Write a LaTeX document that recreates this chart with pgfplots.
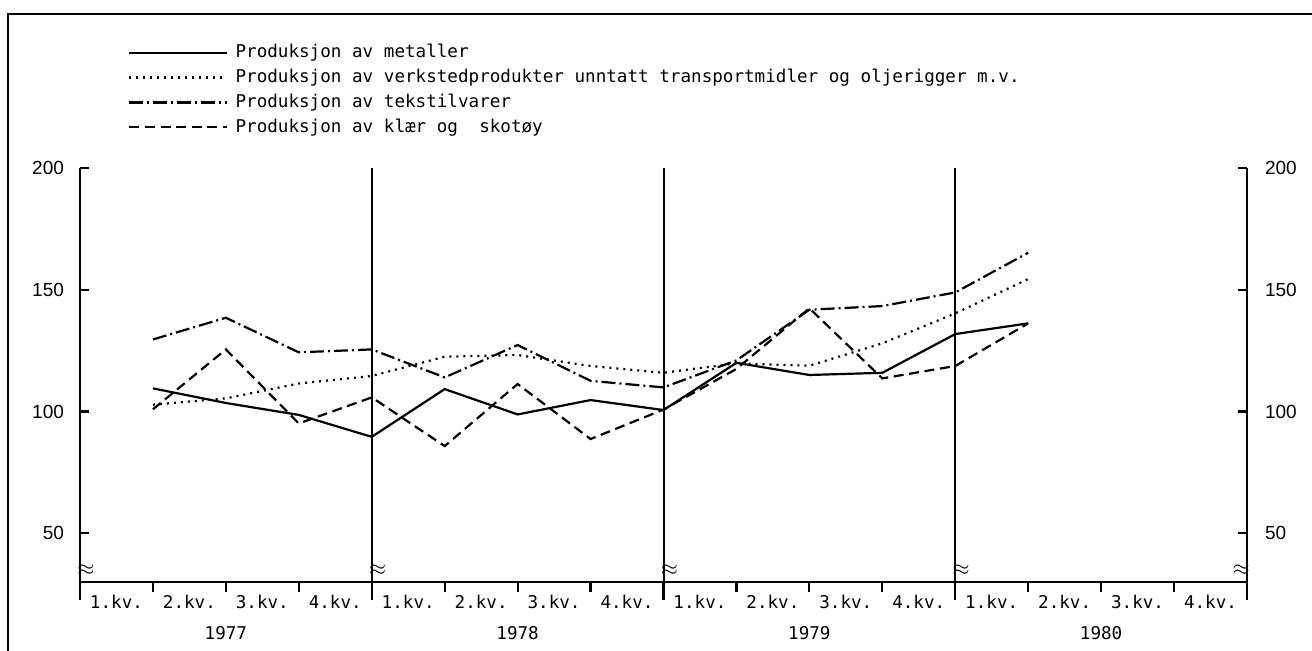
\documentclass[border=0pt]{standalone}
\usepackage{fontspec}
\setmainfont{Liberation Sans}
\setmonofont{DejaVu Sans Mono}
\usepackage{pgfplots}
\usepackage{pgfplotstable}
\pgfplotsset{compat=1.18}

% kvartal (1 = slutten av 1.kv. 1977), indeks
\pgfplotstableread{
q  metal verk  tekst klaer
1  109.5 102.8 129.6 100.9
2  103.5 105.4 138.5 125.5
3  98.6  111.5 124.3 95.1
4  89.6  114.6 125.5 105.8
5  109.2 122.5 114.0 85.8
6  98.8  123.2 127.3 111.3
7  104.7 118.7 112.6 88.7
8  100.6 115.9 109.9 100.8
9  120.0 119.8 121.0 117.5
10 115.0 118.8 141.8 142.4
11 115.9 128.0 143.3 113.6
12 131.8 140.3 148.9 118.7
13 136.2 154.4 165.2 136.2
}\data

\newcommand{\mono}{\ttfamily\fontsize{8.8}{10}\selectfont}

\begin{document}
\begin{tikzpicture}
\useasboundingbox (0,0) rectangle (656pt,325.5pt);
\clip (0,0) rectangle (656pt,325.5pt);
\draw[line width=1.4pt] (4pt,-20pt) -- (4pt,318.5pt) -- (680pt,318.5pt);

\begin{axis}[
    at={(40pt,34.5pt)}, anchor=south west,
    scale only axis, width=583.5pt, height=207pt,
    xmin=0, xmax=16, ymin=30, ymax=200,
    axis line style={draw=none},
    xtick=\empty,
    ytick={50,100,150,200},
    ytick pos=both, yticklabel pos=left,
    tick align=inside, major tick length=4.5pt,
    tick style={line width=1.1pt, black},
    yticklabel style={font=\fontsize{9.5}{10}\selectfont, xshift=-4.5pt},
    /pgf/number format/assume math mode=true,
    clip=false,
    legend cell align=left,
    legend image code/.code={\draw[#1] (0pt,0pt) -- (49pt,0pt);},
    legend style={at={(0.0411,1.309)}, anchor=north west, draw=none, fill=none,
        inner sep=0pt, row sep=0.2pt, column sep=1.5pt, font=\mono},
  ]
  \addplot[line width=1.1pt] table[x=q,y=metal]{\data};
  \addlegendentry{Produksjon av metaller}
  \addplot[line width=1.1pt, dash pattern=on 1pt off 2.5pt] table[x=q,y=verk]{\data};
  \addlegendentry{Produksjon av verkstedprodukter unntatt transportmidler og oljerigger m.v.}
  \addplot[line width=1.1pt, dash pattern=on 7pt off 2pt on 1pt off 2pt] table[x=q,y=tekst]{\data};
  \addlegendentry{Produksjon av tekstilvarer}
  \addplot[line width=1.1pt, dash pattern=on 5pt off 2.8pt] table[x=q,y=klaer]{\data};
  \addlegendentry{Produksjon av klær og\ \ skotøy}

  % akser og årsskiller
  \draw[line width=1.2pt] (axis cs:0,200) -- (axis cs:0,30) -- (axis cs:16,30) -- (axis cs:16,200);
  \draw[line width=1pt] (axis cs:4,30) -- (axis cs:4,200);
  \draw[line width=1pt] (axis cs:8,30) -- (axis cs:8,200);
  \draw[line width=1pt] (axis cs:12,30) -- (axis cs:12,200);
  \pgfplotsinvokeforeach{0,4,8,12}{
    \node[inner sep=0pt, anchor=west, xshift=-1.5pt, font=\fontsize{11}{11}\selectfont] at (axis cs:#1,35) {$\approx$};
  }
  \node[inner sep=0pt, anchor=east, xshift=1.5pt, font=\fontsize{11}{11}\selectfont] at (axis cs:16,35) {$\approx$};
\end{axis}

\begin{axis}[
    at={(40pt,34.5pt)}, anchor=south west,
    scale only axis, width=583.5pt, height=207pt,
    xmin=0, xmax=16, ymin=30, ymax=200,
    axis line style={draw=none},
    ytick={50,100,150,200}, yticklabel pos=right,
    ytick style={draw=none},
    yticklabel style={font=\fontsize{9.5}{10}\selectfont, xshift=0.5pt},
    /pgf/number format/assume math mode=true,
    xtick={0,...,16}, xtick pos=bottom,
    tick align=outside, major tick length=5pt,
    xtick style={line width=1.1pt, black},
    x tick label as interval,
    xticklabels={1.kv.,2.kv.,3.kv.,4.kv.,1.kv.,2.kv.,3.kv.,4.kv.,1.kv.,2.kv.,3.kv.,4.kv.,1.kv.,2.kv.,3.kv.,4.kv.},
    xticklabel style={font=\mono, yshift=2pt},
    extra x ticks={0,4,8,12,16}, extra x tick labels={},
    extra x tick style={major tick length=9pt},
    clip=false,
  ]
  \node[font=\mono] at (axis cs:2,30) [yshift=-25.5pt] {1977};
  \node[font=\mono] at (axis cs:6,30) [yshift=-25.5pt] {1978};
  \node[font=\mono] at (axis cs:10,30) [yshift=-25.5pt] {1979};
  \node[font=\mono] at (axis cs:14,30) [yshift=-25.5pt] {1980};
\end{axis}
\end{tikzpicture}
\end{document}
